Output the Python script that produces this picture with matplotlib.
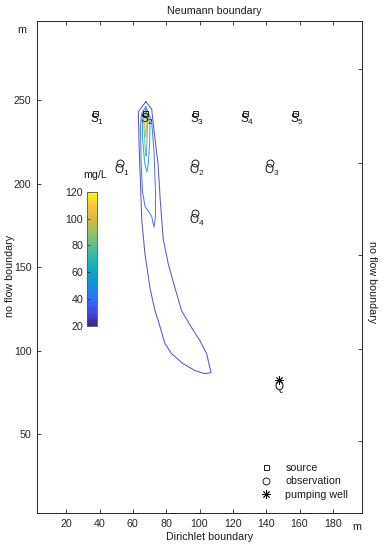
import numpy as np
import matplotlib
matplotlib.use('Agg')
import matplotlib.pyplot as plt
from matplotlib.colors import LinearSegmentedColormap, Normalize
from matplotlib.cm import ScalarMappable

plt.rcParams['font.family'] = ['Liberation Sans', 'DejaVu Sans']
plt.rcParams['mathtext.fontset'] = 'custom'
plt.rcParams['mathtext.rm'] = 'Liberation Sans'

# wells
src_x = [37.5, 67.5, 97.5, 127.5, 157.5]
src_y = [242.5, 242.5, 242.5, 242.5, 242.5]
src_names = ['S_1', 'S_2', 'S_3', 'S_4', 'S_5']
obs_x = [52.5, 97.5, 142.5, 97.5]
obs_y = [212.5, 212.5, 212.5, 182.5]
obs_names = ['O_1', 'O_2', 'O_3', 'O_4']
pump_x = [147.5]
pump_y = [82.5]

# plume iso-concentration lines (mg/L)
levels = [26, 36, 55, 75, 100, 115]
plume_x = [
    [67.8, 71.3, 72.9, 75.1, 76.3, 78.2, 81.3, 85.3, 89.3, 95.3, 100.3, 104.3, 106.9,
     103.3, 97.3, 90.1, 83.3, 79.3, 75.3, 73.3, 70.3, 67.3, 65.4, 63.7, 63.3],
    [67.8, 71.3, 72.7, 73.6, 73.6, 72.7, 71.3, 67.3, 65.8, 64.9, 64.6, 65.2],
    [67.8, 70.3, 70.0, 69.1, 68.4, 67.0, 65.8, 65.8],
    [67.8, 68.9, 68.6, 68.1, 67.9, 67.4, 66.8, 66.6],
    [67.8, 68.4, 68.2, 67.9, 67.5, 67.2],
    [67.8, 68.1, 67.9, 67.5],
]
plume_y = [
    [249.1, 244.7, 230.2, 212.3, 192.4, 167.0, 151.8, 137.5, 123.8, 113.7, 105.9, 98.1, 86.8,
     86.2, 88.0, 92.2, 98.1, 104.1, 117.8, 123.8, 137.5, 157.8, 177.5, 224.2, 243.2],
    [246.1, 237.3, 219.4, 195.4, 180.5, 173.9, 180.5, 186.5, 195.4, 213.3, 234.2, 242.0],
    [244.4, 236.0, 222.4, 210.5, 207.0, 213.3, 228.2, 238.4],
    [243.5, 238.0, 228.0, 218.0, 216.5, 222.0, 232.0, 239.0],
    [243.0, 239.0, 233.0, 228.0, 231.0, 237.0],
    [242.0, 239.0, 235.0, 237.5],
]
cbar_ticks = [20, 40, 60, 80, 100, 120]
x_ticks = [20, 40, 60, 80, 100, 120, 140, 160, 180]
y_ticks = [50, 100, 150, 200, 250]
right_ticks = [45.6, 101.1, 157.2, 212.7, 268.6]

parula_pts = [(0.0, (0.208, 0.166, 0.529)), (0.1, (0.27, 0.28, 0.90)),
              (0.2, (0.17, 0.45, 0.98)), (0.3, (0.08, 0.56, 0.87)),
              (0.4, (0.05, 0.65, 0.80)), (0.5, (0.15, 0.71, 0.69)),
              (0.6, (0.36, 0.75, 0.54)), (0.7, (0.60, 0.75, 0.38)),
              (0.8, (0.83, 0.73, 0.27)), (0.9, (0.99, 0.77, 0.23)),
              (0.95, (0.96, 0.88, 0.15)), (1.0, (0.976, 0.983, 0.054))]
parula = LinearSegmentedColormap.from_list('parula', parula_pts)
norm = Normalize(20, 120)

gray = '#262626'
fs = 7.7

fig = plt.figure(figsize=(3.83, 5.5), dpi=100)
ax = fig.add_axes([0.0966, 0.0667, 0.8486, 0.8951])
ax.set_xlim(2.5, 197.5)
ax.set_ylim(2.5, 297.5)

for lev, xs, ys in zip(levels, plume_x, plume_y):
    ax.plot(xs + xs[:1], ys + ys[:1], color=parula(norm(lev)), lw=0.75, alpha=0.85, zorder=2)

h_src, = ax.plot(src_x, src_y, 's', mfc='none', mec='k', ms=3.6, mew=0.6, ls='none', zorder=3)
h_obs, = ax.plot(obs_x, obs_y, 'o', mfc='none', mec='k', ms=5, mew=0.6, ls='none', zorder=3)
h_pump, = ax.plot(pump_x, pump_y, marker=(8, 2, 0), color='k', ms=6, mew=0.6, ls='none', zorder=3)

for x, y, n in zip(src_x, src_y, src_names):
    ax.annotate('$\\mathregular{%s}$' % n, (x, y), xytext=(-4, -5), textcoords='offset points',
                ha='left', va='center', fontsize=8.5, color='#1a1a1a', zorder=4)
for x, y, n in zip(obs_x, obs_y, obs_names):
    ax.annotate('$\\mathregular{%s}$' % n, (x, y), xytext=(-4.5, -5.5), textcoords='offset points',
                ha='left', va='center', fontsize=8.5, color='#1a1a1a', zorder=4)
ax.annotate('Q', (pump_x[0], pump_y[0]), xytext=(0, -5), textcoords='offset points',
            ha='center', va='center', fontsize=8.5, color='#1a1a1a')

ax.set_xticks(x_ticks)
ax.set_yticks(y_ticks)
ax.tick_params(direction='in', length=3, width=0.6, color=gray, labelcolor=gray,
               labelsize=fs, top=True, right=False, pad=4)
for s in ax.spines.values():
    s.set_color(gray)
    s.set_linewidth(0.7)

ax2 = ax.twinx()
ax2.set_ylim(ax.get_ylim())
ax2.set_yticks(right_ticks)
ax2.set_yticklabels([])
ax2.tick_params(direction='in', length=3, width=0.6, color=gray)
for s in ax2.spines.values():
    s.set_visible(False)

ax.legend([h_src, h_obs, h_pump], ['source', 'observation', 'pumping well'],
          loc='lower left', bbox_to_anchor=(0.681, 0.091), bbox_transform=fig.transFigure,
          frameon=False, fontsize=fs, handlelength=1.0, handletextpad=1.3,
          borderpad=0, borderaxespad=0, labelspacing=0.33, labelcolor='#1a1a1a')

cax = fig.add_axes([0.228, 0.408, 0.025, 0.243])
sm = ScalarMappable(norm=norm, cmap=parula)
cb = fig.colorbar(sm, cax=cax, ticks=cbar_ticks)
cax.yaxis.set_ticks_position('left')
cax.yaxis.set_label_position('left')
cax.tick_params(direction='in', length=2, width=0.5, color=gray, labelcolor=gray,
                labelsize=fs, pad=3)
cb.outline.set_linewidth(0.6)
cb.outline.set_edgecolor('#555555')
fig.text(0.248, 0.682, 'mg/L', ha='center', va='center', fontsize=fs, color='#1a1a1a')

fig.text(0.559, 0.98, 'Neumann boundary', ha='center', va='center', fontsize=fs, color='#1a1a1a')
fig.text(0.548, 0.024, 'Dirichlet boundary', ha='center', va='center', fontsize=fs, color='#1a1a1a')
fig.text(0.025, 0.498, 'no flow boundary', ha='center', va='center', rotation=90,
         fontsize=fs, color='#1a1a1a')
fig.text(0.971, 0.488, 'no flow boundary', ha='center', va='center', rotation=-90,
         fontsize=fs, color='#1a1a1a')
fig.text(0.057, 0.945, 'm', ha='center', va='center', fontsize=fs, color='#1a1a1a')
fig.text(0.931, 0.042, 'm', ha='center', va='center', fontsize=fs, color='#1a1a1a')

fig.savefig('out.png', dpi=100)
